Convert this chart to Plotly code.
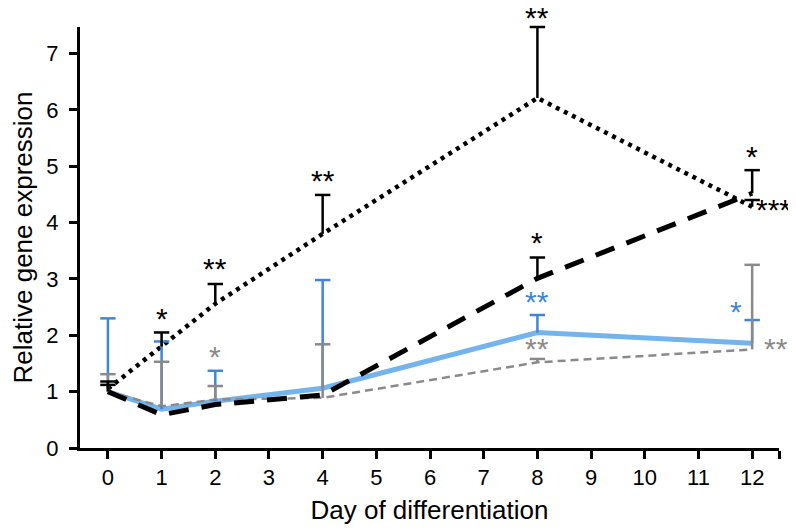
import plotly.graph_objects as go

# ---- data ----
days = [0, 1, 2, 4, 8, 12]
dotted_mean = [1.05, 1.80, 2.56, 3.80, 6.21, 4.28]
dotted_top = [1.18, 2.05, 2.91, 4.49, 7.47, 4.40]
dashed_mean = [1.00, 0.59, 0.77, 0.94, 3.01, 4.52]
dashed_top = [1.12, None, None, None, 3.38, 4.93]
blue_mean = [1.00, 0.69, 0.83, 1.06, 2.05, 1.86]
blue_top = [2.30, 1.89, 1.37, 2.98, 2.36, 2.27]
grey_mean = [1.00, 0.74, 0.86, 0.89, 1.52, 1.75]
grey_top = [1.31, 1.53, 1.10, 1.84, 1.58, 3.25]

x_ticks = list(range(0, 13))
y_ticks = list(range(0, 8))

# significance labels: (day, value, text, series)
star_days = [1, 2, 2, 4, 8, 8, 8, 8, 12, 12, 12, 12]
star_vals = [2.36, 3.25, 1.69, 4.81, 7.71, 3.71, 2.67, 1.83, 5.24, 4.30, 2.49, 1.84]
star_text = ["*", "**", "*", "**", "**", "*", "**", "**", "*", "***", "*", "**"]
star_series = ["k", "k", "g", "k", "k", "k", "b", "g", "k", "k", "b", "g"]
star_shift = [0, 0, 0, 0, 0, 0, 0, 0, 0, 21, -16, 24]

Y_RANGE = [0, 7.47]
X_RANGE = [-0.52, 12.5]

BLACK = "#000000"
GREY = "#8a8a8a"
BLUE_LINE = "#74b4ec"
BLUE_ERR = "#3f86da"
colors = {"k": BLACK, "g": GREY, "b": BLUE_ERR}

FONT = "Liberation Sans, Arial, sans-serif"

fig = go.Figure()


def err_traces(means, tops, color):
    xs, ys, cx, cy = [], [], [], []
    for d, m, t in zip(days, means, tops):
        if t is None:
            continue
        xs += [d, d, None]
        ys += [m, t, None]
        cx.append(d)
        cy.append(t)
    fig.add_trace(go.Scatter(x=xs, y=ys, mode="lines",
                             line=dict(color=color, width=2.5),
                             showlegend=False, hoverinfo="skip", cliponaxis=False))
    fig.add_trace(go.Scatter(x=cx, y=cy, mode="markers",
                             marker=dict(symbol="line-ew", size=11,
                                         line=dict(color=color, width=2.5)),
                             showlegend=False, hoverinfo="skip", cliponaxis=False))


# lines
fig.add_trace(go.Scatter(x=days, y=blue_mean, mode="lines",
                         line=dict(color=BLUE_LINE, width=5), showlegend=False))
fig.add_trace(go.Scatter(x=days, y=grey_mean, mode="lines",
                         line=dict(color=GREY, width=2.5, dash="8px,5px"), showlegend=False))
fig.add_trace(go.Scatter(x=days, y=dashed_mean, mode="lines",
                         line=dict(color=BLACK, width=5, dash="20px,13px"), showlegend=False))
fig.add_trace(go.Scatter(x=days, y=dotted_mean, mode="lines",
                         line=dict(color=BLACK, width=4.5, dash="4px,5px"), showlegend=False))

# error bars (upper only)
err_traces(blue_mean, blue_top, BLUE_ERR)
err_traces(grey_mean, grey_top, GREY)
err_traces(dashed_mean, dashed_top, BLACK)
err_traces(dotted_mean, dotted_top, BLACK)

for d, v, t, s, xs in zip(star_days, star_vals, star_text, star_series, star_shift):
    fig.add_annotation(x=d, xref="x", y=(v - Y_RANGE[0]) / (Y_RANGE[1] - Y_RANGE[0]),
                       yref="paper", xanchor="center", yanchor="middle",
                       text=t, showarrow=False, xshift=xs, yshift=-4,
                       font=dict(family=FONT, size=30, color=colors[s]))

fig.update_layout(
    width=788, height=524,
    margin=dict(l=72, r=17, t=19, b=84),
    paper_bgcolor="white", plot_bgcolor="white",
    font=dict(family=FONT, size=22, color="black"),
    showlegend=False,
)
fig.update_xaxes(
    range=X_RANGE, tickvals=x_ticks + [X_RANGE[1]],
    ticktext=[str(t) for t in x_ticks] + [""],
    showline=True, linecolor="black", linewidth=3,
    ticks="outside", ticklen=8, tickwidth=3, tickcolor="black",
    showgrid=False, zeroline=False, automargin=False,
    title=dict(text="Day of differentiation", font=dict(size=26), standoff=12),
)
fig.update_yaxes(
    range=Y_RANGE, tickvals=y_ticks,
    showline=True, linecolor="black", linewidth=3,
    ticks="outside", ticklen=8, tickwidth=3, tickcolor="black",
    ticklabelstandoff=6,
    showgrid=False, zeroline=False, automargin=False,
    title=dict(text="Relative gene expression", font=dict(size=26), standoff=33),
)

fig.write_html("out.html")
